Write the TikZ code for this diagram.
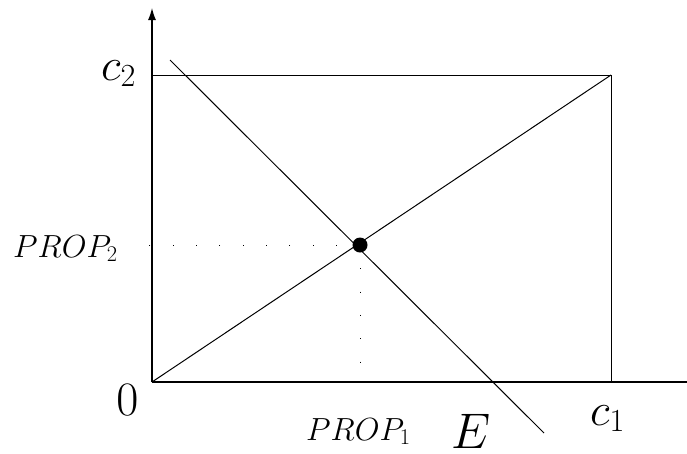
\RequirePackage{fix-cm}
\documentclass[tikz,border=0pt]{standalone}
\usetikzlibrary{arrows.meta}
\begin{document}
\begin{tikzpicture}[x=1pt,y=-1pt,
  axis/.style={line width=1.2pt,-{Latex[length=12pt,width=8pt]}},
  thin line/.style={line width=1pt},
  dotline/.style={line width=1pt,dash pattern=on 0.9pt off 22.4pt},
  lbl/.style={inner sep=0pt}]
\useasboundingbox (0,0) rectangle (687,453);
\coordinate (O) at (152,382);
\coordinate (ytop) at (152,8);
\coordinate (xend) at (699,382);
\coordinate (C2) at (152,75);
\coordinate (TR) at (611,75);
\coordinate (C1) at (611,382);
\coordinate (Es) at (170,60);
\coordinate (Ee) at (544,433);
\coordinate (P) at (360,245);
\coordinate (Pl) at (149,245);
\coordinate (Pb) at (360,362);
\draw[axis] (O) -- (ytop);
\draw[axis] (O) -- (xend);
\draw[thin line] (C2) -- (TR) -- (C1);
\draw[thin line] (O) -- (TR);
\draw[thin line] (Es) -- (Ee);
\draw[dotline] (P) -- (Pl);
\draw[dotline] (P) -- (Pb);
\fill (P) circle (7.5pt);
\node[lbl,anchor=base west,font=\fontsize{46}{46}\selectfont] (lc2) at (101,80) {$c_2$};
\node[lbl,anchor=base,font=\fontsize{48}{48}\selectfont] (l0) at (127.5,415) {$0$};
\node[lbl,anchor=base west,font=\fontsize{46}{46}\selectfont] (lc1) at (590,425) {$c_1$};
\node[lbl,anchor=base west,font=\fontsize{32}{32}\selectfont] (lp2) at (13,257) {$PROP_2$};
\node[lbl,anchor=base west,font=\fontsize{32}{32}\selectfont] (lp1) at (306,440) {$PROP_1$};
\node[lbl,anchor=base west,font=\fontsize{50}{50}\selectfont] (lE) at (451,448) {$E$};
\end{tikzpicture}
\end{document}
